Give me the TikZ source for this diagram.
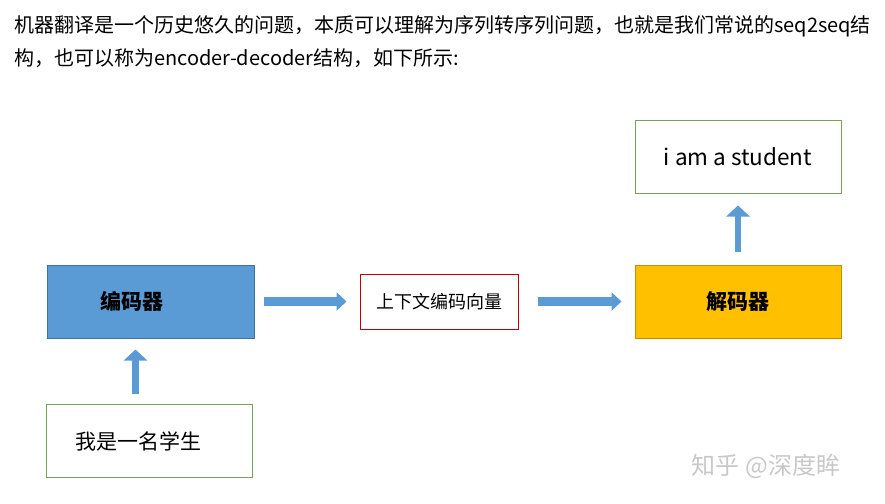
\documentclass[tikz,border=0pt]{standalone}
\usepackage{fontspec}
\setmainfont{Noto Sans CJK SC}
\usetikzlibrary{arrows.meta}
\definecolor{encblue}{HTML}{5B9BD5}
\definecolor{encedge}{HTML}{41719C}
\definecolor{decgold}{HTML}{FFC000}
\definecolor{decedge}{HTML}{BF9000}
\definecolor{boxgreen}{HTML}{7BA05B}
\definecolor{boxred}{HTML}{C00000}
\definecolor{markgray}{HTML}{C8C8C8}
\begin{document}
\begin{tikzpicture}[x=1pt,y=-1pt,
    box/.style={draw,line width=1pt,minimum width=206pt,minimum height=73pt,inner sep=0pt},
    hflow/.style={encblue,line width=9pt,-{Triangle[length=10pt,width=18pt]}},
    vflow/.style={encblue,line width=6.5pt,-{Triangle[length=11pt,width=23pt]}}]
  \useasboundingbox (0,0) rectangle (885,503);
  % header text
  \node[anchor=west,inner sep=0pt,font=\fontsize{20}{22}\selectfont] (line1) at (14,26)
    {机器翻译是一个历史悠久的问题，本质可以理解为序列转序列问题，也就是我们常说的seq2seq结};
  \node[anchor=west,inner sep=0pt,font=\fontsize{20}{22}\selectfont] (line2) at (14,58)
    {构，也可以称为encoder-decoder结构，如下所示:};

  % boxes
  \node[box,fill=encblue,draw=encedge,text width=101pt,inner xsep=53pt,align=left,
        font=\fontsize{21}{24}\selectfont\bfseries] (enc) at (150.5,301.5) {编码器};
  \node[box,draw=boxred,minimum width=158pt,minimum height=55pt,
        font=\fontsize{18}{20}\selectfont] (ctx) at (439,301.5) {上下文编码向量};
  \node[box,fill=decgold,draw=decedge,font=\fontsize{21}{24}\selectfont\bfseries] (dec) at (738,301.5) {解码器};
  \node[box,draw=boxgreen,font=\fontsize{22.5}{25}\selectfont] (out) at (738,156.5) {i am a student};
  \node[box,draw=boxgreen,text width=149pt,inner xsep=28pt,align=left,
        font=\fontsize{21}{24}\selectfont] (inp) at (149.5,441) {我是一名学生};

  % arrows
  \draw[hflow,shorten <=9pt,shorten >=13pt] (enc.east) -- (ctx.west);
  \draw[hflow,shorten <=19pt,shorten >=13pt] (ctx.east) -- (dec.west);
  \draw[vflow,shorten <=10pt,shorten >=11pt] (inp.north -| enc.south) ++(-15,0) coordinate (inarrow)
    -- (inarrow |- enc.south);
  \draw[vflow,shorten <=13pt,shorten >=12pt] (dec.north) -- (out.south);

  % watermark
  \node[text=markgray,font=\fontsize{24}{26}\selectfont] (mark) at (766,466) {知乎 @深度眸};
\end{tikzpicture}
\end{document}
